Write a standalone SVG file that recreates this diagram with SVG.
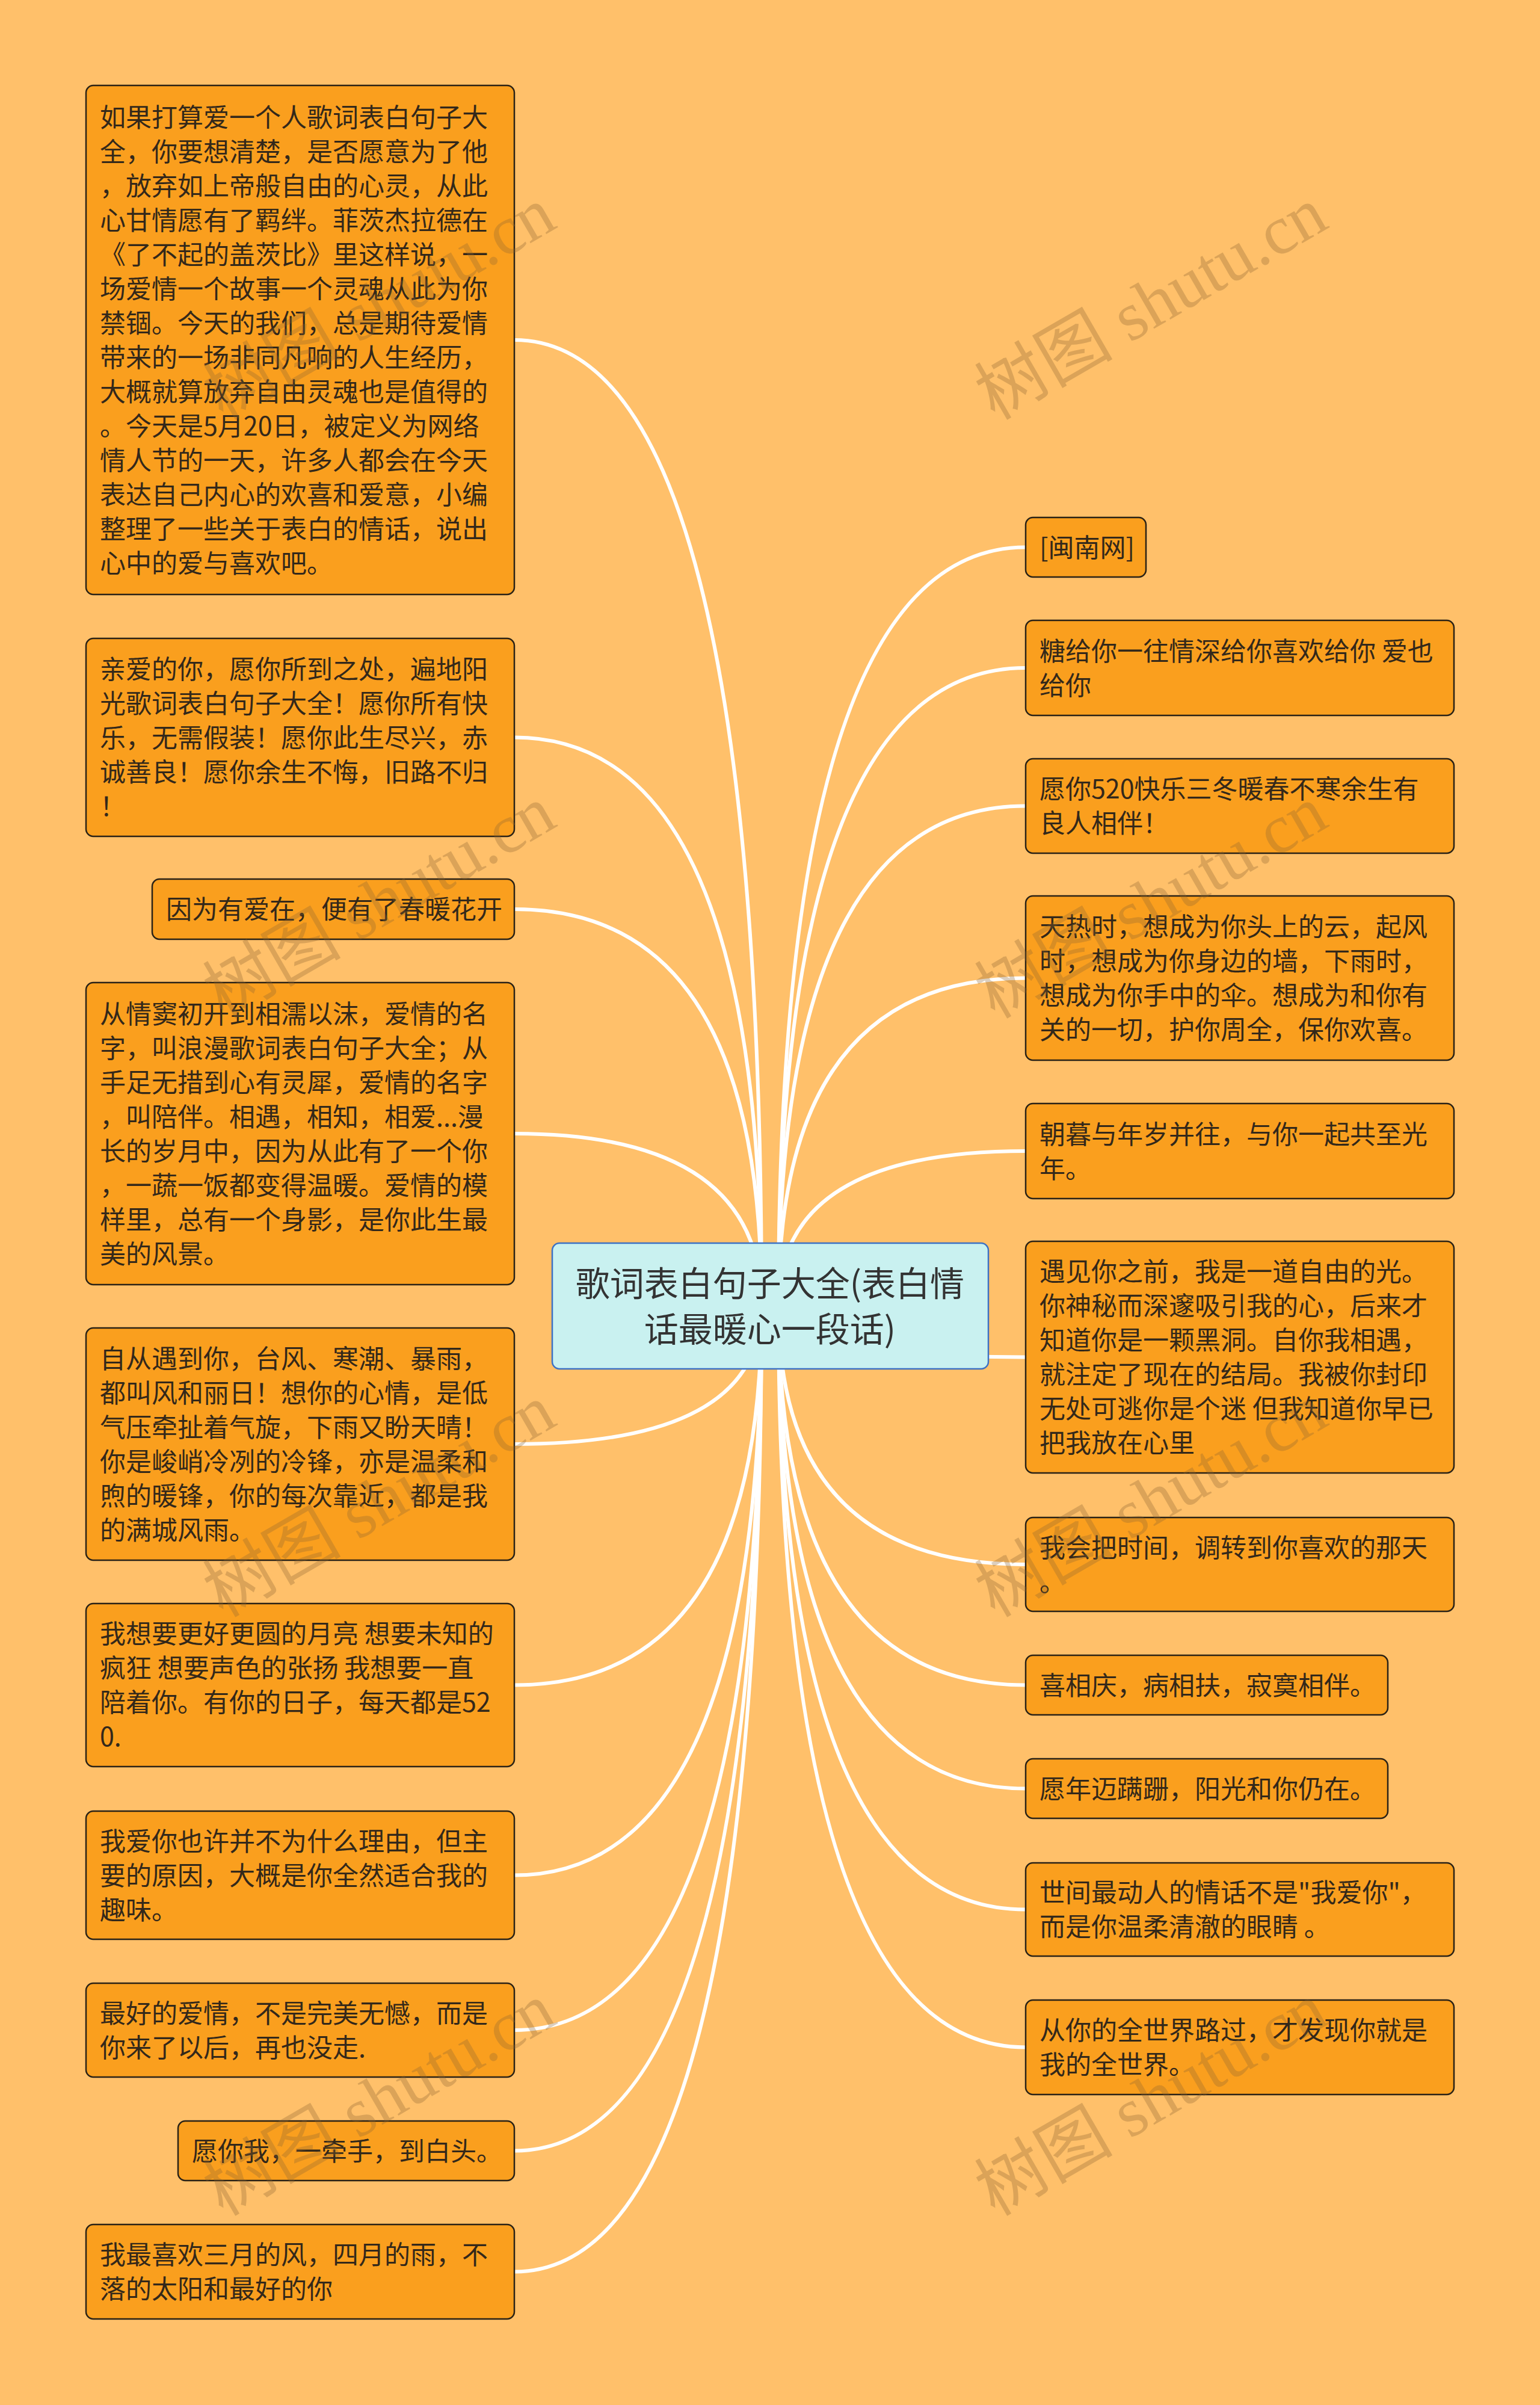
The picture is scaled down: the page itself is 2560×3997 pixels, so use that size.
<svg xmlns="http://www.w3.org/2000/svg" width="2560" height="3997" viewBox="0 0 2560 3997">
<style>
.bg{fill:#ffc06a}
.node rect{fill:#fa9f1e;stroke:#2a2216;stroke-width:2.5}
.node text{font-family:"Noto Sans CJK SC","Noto Sans",sans-serif;font-size:43px;fill:#33281a}
.root rect{fill:#c9f1f0;stroke:#3d72c4;stroke-width:2.5}
.root text{font-family:"Noto Sans CJK SC","Noto Sans",sans-serif;font-size:57px;fill:#333333;text-anchor:middle}
.conn path{fill:none;stroke:#ffffff;stroke-width:6;stroke-linecap:round}
.wm{font-family:"Liberation Serif","Noto Sans CJK SC",serif;font-size:115px;fill:#8c6432;opacity:0.3;text-anchor:middle}
</style>
<rect class="bg" x="0" y="0" width="2560" height="3997"/>
<g id="connectors" class="conn">
<path d="M1266 2170 Q1266 565 855 565"/>
<path d="M1266 2170 Q1266 1225.5 855 1225.5"/>
<path d="M1266 2170 Q1266 1511 855 1511"/>
<path d="M1266 2170 Q1266 1884 855 1884"/>
<path d="M1266 2170 Q1266 2400 855 2400"/>
<path d="M1266 2170 Q1266 2800.5 855 2800.5"/>
<path d="M1266 2170 Q1266 3116.5 855 3116.5"/>
<path d="M1266 2170 Q1266 3374 855 3374"/>
<path d="M1266 2170 Q1266 3574.5 855 3574.5"/>
<path d="M1266 2170 Q1266 3775.5 855 3775.5"/>
<path d="M1294 2170 Q1294 909.5 1705 909.5"/>
<path d="M1294 2170 Q1294 1110 1705 1110"/>
<path d="M1294 2170 Q1294 1339.5 1705 1339.5"/>
<path d="M1294 2170 Q1294 1625.5 1705 1625.5"/>
<path d="M1294 2170 Q1294 1913 1705 1913"/>
<path d="M1294 2170 Q1294 2255.5 1705 2255.5"/>
<path d="M1294 2170 Q1294 2600 1705 2600"/>
<path d="M1294 2170 Q1294 2800.5 1705 2800.5"/>
<path d="M1294 2170 Q1294 2972.5 1705 2972.5"/>
<path d="M1294 2170 Q1294 3173.5 1705 3173.5"/>
<path d="M1294 2170 Q1294 3402.5 1705 3402.5"/>
</g>
<g id="root" class="root">
<rect x="918" y="2066" width="725" height="209" rx="12"/>
<text><tspan x="1280" y="2154">歌词表白句子大全(表白情</tspan><tspan x="1280" y="2230">话最暖心一段话)</tspan></text>
</g>
<g id="L1" class="node">
<rect x="143" y="142" width="712" height="846" rx="12"/>
<text><tspan x="166" y="211">如果打算爱一个人歌词表白句子大</tspan><tspan x="166" y="268">全，你要想清楚，是否愿意为了他</tspan><tspan x="166" y="325">，放弃如上帝般自由的心灵，从此</tspan><tspan x="166" y="382">心甘情愿有了羁绊。菲茨杰拉德在</tspan><tspan x="166" y="439">《了不起的盖茨比》里这样说，一</tspan><tspan x="166" y="496">场爱情一个故事一个灵魂从此为你</tspan><tspan x="166" y="553">禁锢。今天的我们，总是期待爱情</tspan><tspan x="166" y="610">带来的一场非同凡响的人生经历，</tspan><tspan x="166" y="667">大概就算放弃自由灵魂也是值得的</tspan><tspan x="166" y="724">。今天是5月20日，被定义为网络</tspan><tspan x="166" y="781">情人节的一天，许多人都会在今天</tspan><tspan x="166" y="838">表达自己内心的欢喜和爱意，小编</tspan><tspan x="166" y="895">整理了一些关于表白的情话，说出</tspan><tspan x="166" y="952">心中的爱与喜欢吧。</tspan></text>
</g>
<g id="L2" class="node">
<rect x="143" y="1061" width="712" height="329" rx="12"/>
<text><tspan x="166" y="1128">亲爱的你，愿你所到之处，遍地阳</tspan><tspan x="166" y="1185">光歌词表白句子大全！愿你所有快</tspan><tspan x="166" y="1242">乐，无需假装！愿你此生尽兴，赤</tspan><tspan x="166" y="1299">诚善良！愿你余生不悔，旧路不归</tspan><tspan x="166" y="1356">！</tspan></text>
</g>
<g id="L3" class="node">
<rect x="253" y="1461" width="602" height="100" rx="12"/>
<text><tspan x="276" y="1527">因为有爱在，便有了春暖花开</tspan></text>
</g>
<g id="L4" class="node">
<rect x="143" y="1633" width="712" height="502" rx="12"/>
<text><tspan x="166" y="1701">从情窦初开到相濡以沫，爱情的名</tspan><tspan x="166" y="1758">字，叫浪漫歌词表白句子大全；从</tspan><tspan x="166" y="1815">手足无措到心有灵犀，爱情的名字</tspan><tspan x="166" y="1872">，叫陪伴。相遇，相知，相爱...漫</tspan><tspan x="166" y="1929">长的岁月中，因为从此有了一个你</tspan><tspan x="166" y="1986">，一蔬一饭都变得温暖。爱情的模</tspan><tspan x="166" y="2043">样里，总有一个身影，是你此生最</tspan><tspan x="166" y="2100">美的风景。</tspan></text>
</g>
<g id="L5" class="node">
<rect x="143" y="2207" width="712" height="386" rx="12"/>
<text><tspan x="166" y="2274">自从遇到你，台风、寒潮、暴雨，</tspan><tspan x="166" y="2331">都叫风和丽日！想你的心情，是低</tspan><tspan x="166" y="2388">气压牵扯着气旋，下雨又盼天晴！</tspan><tspan x="166" y="2445">你是峻峭冷冽的冷锋，亦是温柔和</tspan><tspan x="166" y="2502">煦的暖锋，你的每次靠近，都是我</tspan><tspan x="166" y="2559">的满城风雨。</tspan></text>
</g>
<g id="L6" class="node">
<rect x="143" y="2665" width="712" height="271" rx="12"/>
<text><tspan x="166" y="2731">我想要更好更圆的月亮 想要未知的</tspan><tspan x="166" y="2788">疯狂 想要声色的张扬 我想要一直</tspan><tspan x="166" y="2845">陪着你。有你的日子，每天都是52</tspan><tspan x="166" y="2902">0.</tspan></text>
</g>
<g id="L7" class="node">
<rect x="143" y="3010" width="712" height="213" rx="12"/>
<text><tspan x="166" y="3076">我爱你也许并不为什么理由，但主</tspan><tspan x="166" y="3133">要的原因，大概是你全然适合我的</tspan><tspan x="166" y="3190">趣味。</tspan></text>
</g>
<g id="L8" class="node">
<rect x="143" y="3296" width="712" height="156" rx="12"/>
<text><tspan x="166" y="3362">最好的爱情，不是完美无憾，而是</tspan><tspan x="166" y="3419">你来了以后，再也没走.</tspan></text>
</g>
<g id="L9" class="node">
<rect x="296" y="3525" width="559" height="99" rx="12"/>
<text><tspan x="319" y="3591">愿你我，一牵手，到白头。</tspan></text>
</g>
<g id="L10" class="node">
<rect x="143" y="3697" width="712" height="157" rx="12"/>
<text><tspan x="166" y="3763">我最喜欢三月的风，四月的雨，不</tspan><tspan x="166" y="3820">落的太阳和最好的你</tspan></text>
</g>
<g id="R1" class="node">
<rect x="1705" y="860" width="200" height="99" rx="12"/>
<text><tspan x="1728" y="926">[闽南网]</tspan></text>
</g>
<g id="R2" class="node">
<rect x="1705" y="1031" width="712" height="158" rx="12"/>
<text><tspan x="1728" y="1098">糖给你一往情深给你喜欢给你 爱也</tspan><tspan x="1728" y="1155">给你</tspan></text>
</g>
<g id="R3" class="node">
<rect x="1705" y="1261" width="712" height="157" rx="12"/>
<text><tspan x="1728" y="1327">愿你520快乐三冬暖春不寒余生有</tspan><tspan x="1728" y="1384">良人相伴！</tspan></text>
</g>
<g id="R4" class="node">
<rect x="1705" y="1489" width="712" height="273" rx="12"/>
<text><tspan x="1728" y="1556">天热时，想成为你头上的云，起风</tspan><tspan x="1728" y="1613">时，想成为你身边的墙，下雨时，</tspan><tspan x="1728" y="1670">想成为你手中的伞。想成为和你有</tspan><tspan x="1728" y="1727">关的一切，护你周全，保你欢喜。</tspan></text>
</g>
<g id="R5" class="node">
<rect x="1705" y="1834" width="712" height="158" rx="12"/>
<text><tspan x="1728" y="1901">朝暮与年岁并往，与你一起共至光</tspan><tspan x="1728" y="1958">年。</tspan></text>
</g>
<g id="R6" class="node">
<rect x="1705" y="2063" width="712" height="385" rx="12"/>
<text><tspan x="1728" y="2129">遇见你之前，我是一道自由的光。</tspan><tspan x="1728" y="2186">你神秘而深邃吸引我的心，后来才</tspan><tspan x="1728" y="2243">知道你是一颗黑洞。自你我相遇，</tspan><tspan x="1728" y="2300">就注定了现在的结局。我被你封印</tspan><tspan x="1728" y="2357">无处可逃你是个迷 但我知道你早已</tspan><tspan x="1728" y="2414">把我放在心里</tspan></text>
</g>
<g id="R7" class="node">
<rect x="1705" y="2522" width="712" height="156" rx="12"/>
<text><tspan x="1728" y="2588">我会把时间，调转到你喜欢的那天</tspan><tspan x="1728" y="2645">。</tspan></text>
</g>
<g id="R8" class="node">
<rect x="1705" y="2751" width="602" height="99" rx="12"/>
<text><tspan x="1728" y="2817">喜相庆，病相扶，寂寞相伴。</tspan></text>
</g>
<g id="R9" class="node">
<rect x="1705" y="2923" width="602" height="99" rx="12"/>
<text><tspan x="1728" y="2989">愿年迈蹒跚，阳光和你仍在。</tspan></text>
</g>
<g id="R10" class="node">
<rect x="1705" y="3096" width="712" height="155" rx="12"/>
<text><tspan x="1728" y="3161">世间最动人的情话不是"我爱你"，</tspan><tspan x="1728" y="3218">而是你温柔清澈的眼睛 。</tspan></text>
</g>
<g id="R11" class="node">
<rect x="1705" y="3324" width="712" height="157" rx="12"/>
<text><tspan x="1728" y="3390">从你的全世界路过，才发现你就是</tspan><tspan x="1728" y="3447">我的全世界。</tspan></text>
</g>
<g id="watermarks">
<text class="wm" x="650" y="538" transform="rotate(-30 650 538)">树图 shutu.cn</text>
<text class="wm" x="1933" y="538" transform="rotate(-30 1933 538)">树图 shutu.cn</text>
<text class="wm" x="650" y="1533" transform="rotate(-30 650 1533)">树图 shutu.cn</text>
<text class="wm" x="1933" y="1533" transform="rotate(-30 1933 1533)">树图 shutu.cn</text>
<text class="wm" x="650" y="2528" transform="rotate(-30 650 2528)">树图 shutu.cn</text>
<text class="wm" x="1933" y="2528" transform="rotate(-30 1933 2528)">树图 shutu.cn</text>
<text class="wm" x="650" y="3523" transform="rotate(-30 650 3523)">树图 shutu.cn</text>
<text class="wm" x="1933" y="3523" transform="rotate(-30 1933 3523)">树图 shutu.cn</text>
</g>
</svg>
